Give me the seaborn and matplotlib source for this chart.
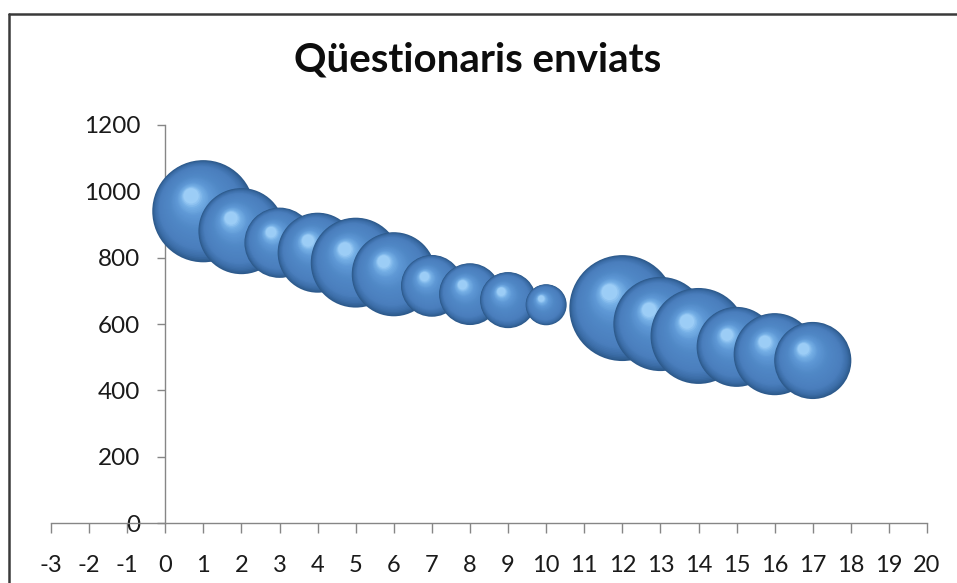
import numpy as np
import pandas as pd
import matplotlib
matplotlib.use("Agg")
import matplotlib.pyplot as plt
import seaborn as sns
from matplotlib.markers import MarkerStyle
from matplotlib.transforms import Affine2D
from matplotlib.lines import Line2D
import matplotlib.colors as mcolors

# ---------------- data ----------------
title = "Qüestionaris enviats"
x_vals = [1, 2, 3, 4, 5, 6, 7, 8, 9, 10, 12, 13, 14, 15, 16, 17]
y_vals = [940, 880, 845, 815, 785, 750, 715, 690, 672, 658, 648, 600, 564, 531, 509, 490]
bubble_sizes = [93, 66, 44, 57, 72, 63, 34, 34, 28, 15, 100, 79, 82, 57, 60, 53]
x_ticks = list(range(-3, 21))
y_ticks = [0, 200, 400, 600, 800, 1000, 1200]

df = pd.DataFrame({"x": x_vals, "y": y_vals, "size": bubble_sizes})

# ---------------- style ----------------
sns.set_theme(style="white")
plt.rcParams['font.family'] = ['Lato', 'DejaVu Sans']
plt.rcParams['axes.unicode_minus'] = False

AREA_PER_UNIT = 58.2          # points^2 per unit of bubble size
N_LAYERS = 36
HL_OFFSET = (-0.12, 0.15)     # highlight centre, in marker-diameter units

ramp = mcolors.LinearSegmentedColormap.from_list(
    "sphere",
    [(0.00, "#2d5a8c"), (0.08, "#3b6da7"), (0.22, "#4a7ebd"),
     (0.55, "#5088c6"), (0.78, "#5e98d5"), (0.92, "#76b0e6"),
     (1.00, "#9ccdf6")])

fig = plt.figure(figsize=(9.57, 5.83), dpi=100)
ax = fig.add_axes([0.0533, 0.1029, 0.9154, 0.6827])

ts = np.linspace(0, 1, N_LAYERS)
for i, row in df.iterrows():
    s = row["size"] * AREA_PER_UNIT
    z = 3 + i
    # base body of the bubble
    sns.scatterplot(x=[row["x"]], y=[row["y"]], s=s, color=ramp(0.0),
                    edgecolor="none", linewidth=0, ax=ax, zorder=z,
                    clip_on=False, legend=False)
    # sphere shading layers
    for t in ts[1:]:
        f = 1 - 0.85 * t
        mk = MarkerStyle("o", transform=Affine2D().scale(f).translate(
            HL_OFFSET[0] * t, HL_OFFSET[1] * t))
        ax.scatter([row["x"]], [row["y"]], s=s, marker=mk, color=ramp(t),
                   edgecolors="none", linewidths=0, zorder=z + 0.5,
                   clip_on=False)

ax.set_xlim(-3, 20)
ax.set_ylim(0, 1200)
ax.set_xticks(x_ticks)
ax.set_yticks(y_ticks)
ax.set_xlabel("")
ax.set_ylabel("")

axis_col = "#868686"
for side in ["top", "right"]:
    ax.spines[side].set_visible(False)
ax.spines["left"].set_position(("data", 0))
for side in ["left", "bottom"]:
    ax.spines[side].set_color(axis_col)
    ax.spines[side].set_linewidth(1.0)
    ax.spines[side].set_zorder(1)

ax.tick_params(axis="x", bottom=True, direction="out", length=7, width=1,
               color=axis_col, pad=16, labelsize=17, labelcolor="#1a1a1a")
ax.tick_params(axis="y", left=True, direction="out", length=6, width=1,
               color=axis_col, pad=12, labelsize=17.5, labelcolor="#1a1a1a")
ax.grid(False)
ax.set_facecolor("none")

fig.text(0.4995, 0.878, title, ha="center", va="baseline",
         fontsize=29, fontweight="bold", color="#0d0d0d")

# chart frame (left and top edges visible in the crop)
fig.add_artist(Line2D([9 / 957, 9 / 957], [0, 1 - 14 / 583],
                      transform=fig.transFigure, color="#3a3a3a", lw=1.8))
fig.add_artist(Line2D([9 / 957, 1], [1 - 14 / 583, 1 - 14 / 583],
                      transform=fig.transFigure, color="#3a3a3a", lw=1.8))

fig.savefig("out.png", dpi=100)
